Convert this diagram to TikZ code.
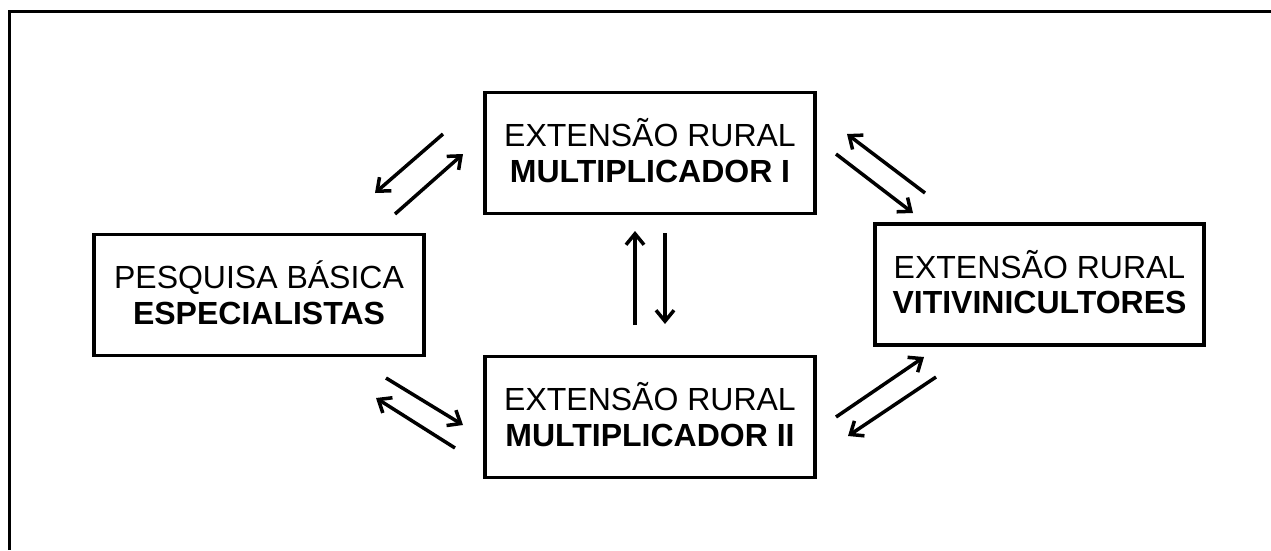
\documentclass[tikz,border=0pt]{standalone}
\usepackage{fontspec}
\setmainfont{Liberation Sans}
\usetikzlibrary{arrows.meta}
\begin{document}
\begin{tikzpicture}[x=1pt,y=-1pt,
  box/.style={draw=black,line width=3.5pt,minimum width=330pt,minimum height=121pt,
    inner sep=0pt,align=center,font=\fontsize{32}{35.5}\selectfont,
    text height=58.4pt,text depth=0pt},
  flow/.style={line width=3.5pt,-{Straight Barb[length=11pt,width=18pt]}},
  frame/.style={line width=3.5pt}]
\useasboundingbox (0,0) rectangle (1271,550);
\fill[white] (0,0) rectangle (1271,550);
% outer frame (right and bottom sides lie outside the picture)
\coordinate (f1) at (9.5,550);
\coordinate (f2) at (9.5,11.5);
\coordinate (f3) at (1271,11.5);
\draw[frame] (f1) -- (f2) -- (f3);
% boxes
\node[box] (pb) at (259,295) {PESQUISA BÁSICA\\\textbf{ESPECIALISTAS}};
\node[box] (m1) at (650,153) {EXTENSÃO RURAL\\\textbf{MULTIPLICADOR I}};
\node[box] (m2) at (650,417) {EXTENSÃO RURAL\\\textbf{MULTIPLICADOR II}};
\node[box,minimum width=329pt] (vt) at (1039.5,284.5) {EXTENSÃO RURAL\\\textbf{VITIVINICULTORES}};
% arrow end points
\coordinate (a1s) at (443,134); \coordinate (a1e) at (375,193);
\coordinate (a2s) at (395,214); \coordinate (a2e) at (463,154);
\coordinate (a3s) at (925,193); \coordinate (a3e) at (847,134);
\coordinate (a4s) at (836,154); \coordinate (a4e) at (913,213);
\coordinate (a5s) at (635,325); \coordinate (a5e) at (635,231);
\coordinate (a6s) at (665,233); \coordinate (a6e) at (665,324);
\coordinate (a7s) at (386,378); \coordinate (a7e) at (463,425);
\coordinate (a8s) at (455,448); \coordinate (a8e) at (376,398);
\coordinate (a9s) at (836,417); \coordinate (a9e) at (924,357);
\coordinate (a10s) at (936,377); \coordinate (a10e) at (848,436);
\draw[flow] (a1s) -- (a1e);
\draw[flow] (a2s) -- (a2e);
\draw[flow] (a3s) -- (a3e);
\draw[flow] (a4s) -- (a4e);
\draw[flow] (a5s) -- (a5e);
\draw[flow] (a6s) -- (a6e);
\draw[flow] (a7s) -- (a7e);
\draw[flow] (a8s) -- (a8e);
\draw[flow] (a9s) -- (a9e);
\draw[flow] (a10s) -- (a10e);
\end{tikzpicture}
\end{document}
